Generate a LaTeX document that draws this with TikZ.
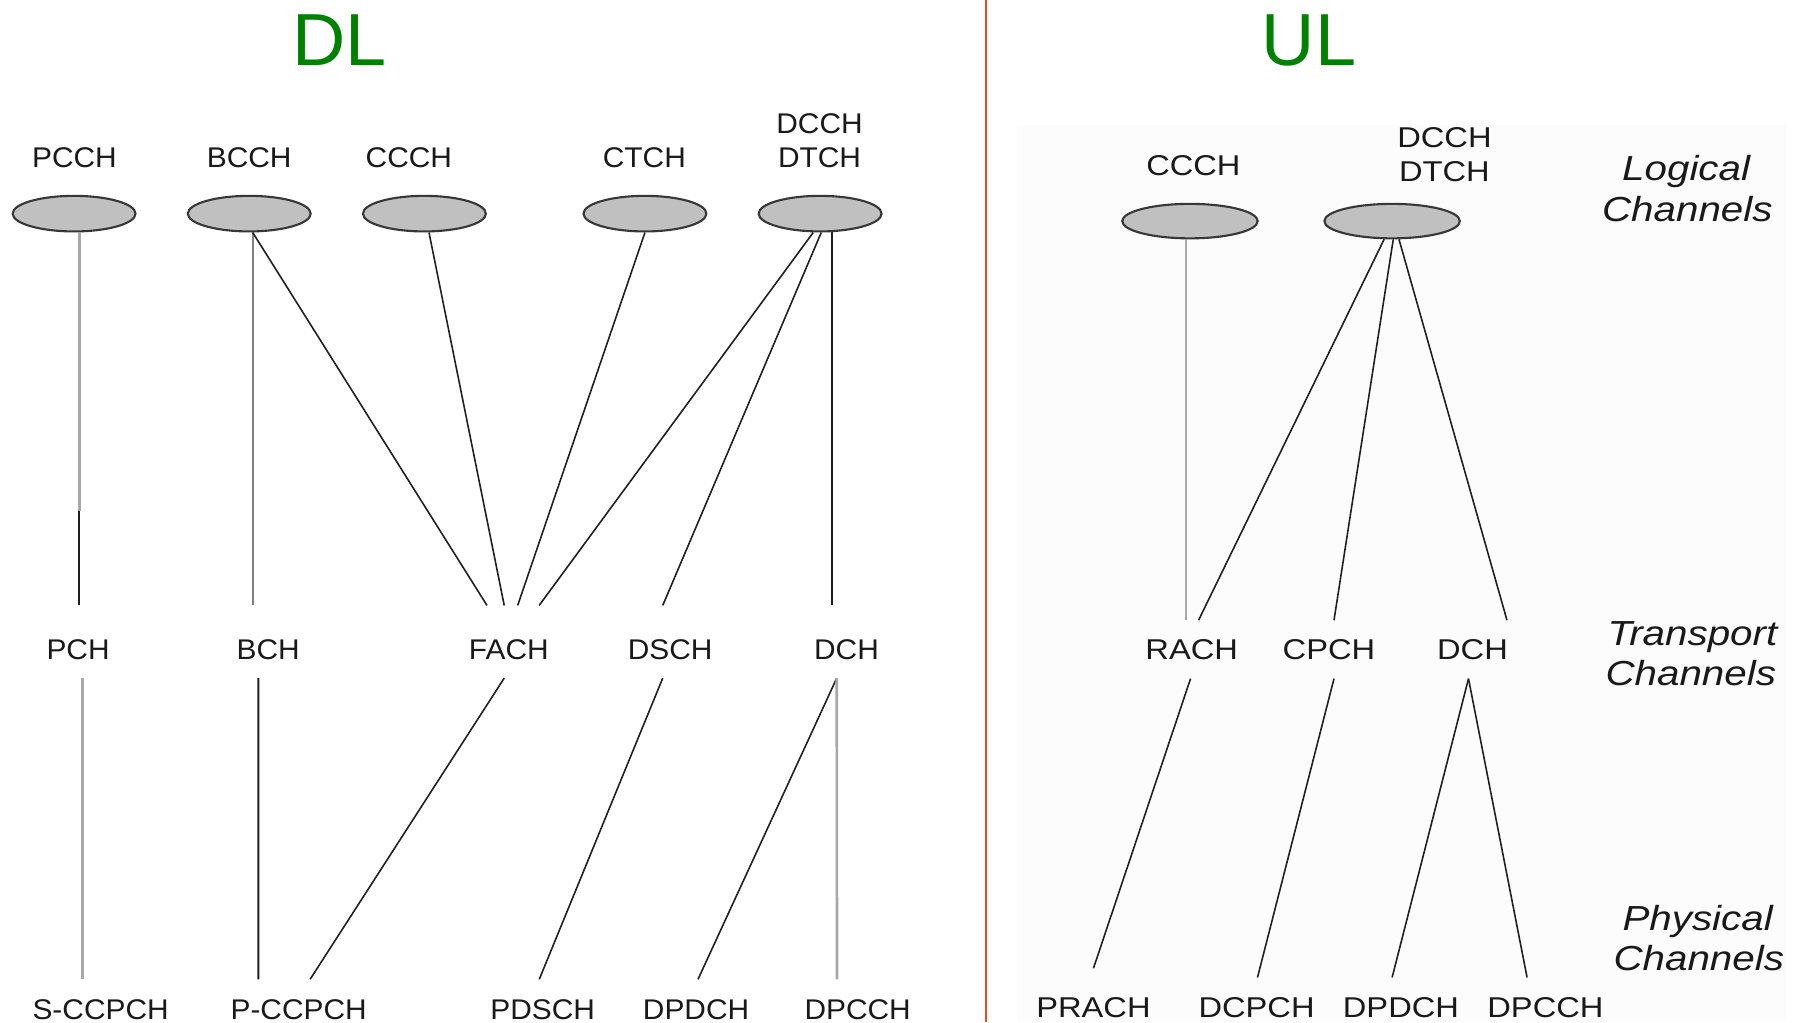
\documentclass[tikz,border=0pt]{standalone}
\usepackage{fontspec}
\setmainfont{Liberation Sans}
\newfontfamily\dlfont[FakeStretch=1.05]{Liberation Sans}
\newfontfamily\ulfont[FakeStretch=1.14]{Liberation Sans}
\newfontfamily\sidefont[FakeStretch=1.16]{Liberation Sans}
\usetikzlibrary{calc,shapes.geometric}
\definecolor{titlegreen}{RGB}{0,128,0}
\definecolor{divred}{RGB}{240,72,32}
\definecolor{ellfill}{RGB}{192,192,192}
\definecolor{ellline}{RGB}{55,55,55}
\definecolor{lgray}{RGB}{168,168,168}
\definecolor{mgray}{RGB}{128,128,128}
\definecolor{panelbg}{RGB}{252,252,252}
\definecolor{txt}{RGB}{25,25,25}
\begin{document}
\begin{tikzpicture}[x=0.011486cm,y=-0.011486cm,
  dllabel/.style={inner sep=0,anchor=base,text=txt,font=\dlfont\fontsize{8.1}{10.1}\selectfont},
  ullabel/.style={inner sep=0,anchor=base,text=txt,font=\ulfont\fontsize{8.15}{10}\selectfont},
  sidelabel/.style={inner sep=0,anchor=base,text=txt,font=\sidefont\itshape\fontsize{9.9}{11.7}\selectfont},
  titlelabel/.style={inner sep=0,anchor=base,text=titlegreen,font=\fontsize{21}{24}\selectfont},
  dlell/.style={ellipse,draw=ellline,fill=ellfill,line width=0.6pt,minimum width=1.229cm,minimum height=0.356cm,inner sep=0},
  ulell/.style={ellipse,draw=ellline,fill=ellfill,line width=0.6pt,minimum width=1.355cm,minimum height=0.345cm,inner sep=0},
  thinline/.style={draw=black!88,line width=0.45pt},
  grayline/.style={draw=lgray,line width=0.75pt},
  midline/.style={draw=mgray,line width=0.6pt}]
\useasboundingbox (0,0) rectangle (1568,890);
\fill[white] (0,0) rectangle (1568,890);
\fill[panelbg] (885,109) rectangle (1555,890);
\draw[divred,line width=0.7pt] (858.4,0) -- (858.4,890);

% titles
\node[titlelabel] (dltitle) at (295.6,56.6) {DL};
\node[titlelabel] (ultitle) at (1139.7,56.6) {UL};

% ---------------- DL ----------------
% logical labels
\node[dllabel] (pcch) at (64.8,146) {PCCH};
\node[dllabel] (bcch) at (217,146) {BCCH};
\node[dllabel] (ccch) at (356,146) {CCCH};
\node[dllabel] (ctch) at (561,146) {CTCH};
\node[dllabel] (dcchD) at (713.5,116) {DCCH};
\node[dllabel] (dtchD) at (713.5,146) {DTCH};
% ellipses
\node[dlell] (pcchE) at (64.5,186) {};
\node[dlell] (bcchE) at (217,186) {};
\node[dlell] (ccchE) at (369.5,186) {};
\node[dlell] (ctchE) at (561.5,186) {};
\node[dlell] (dcchE) at (714,186) {};
% transport
\node[dllabel] (pch) at (68,574) {PCH};
\node[dllabel] (bch) at (233.5,574) {BCH};
\node[dllabel] (fach) at (443,574) {FACH};
\node[dllabel] (dsch) at (583.5,574) {DSCH};
\node[dllabel] (dchD) at (737,574) {DCH};
% physical
\node[dllabel] (sccpch) at (87.6,888) {S-CCPCH};
\node[dllabel] (pccpch) at (260,888) {P-CCPCH};
\node[dllabel] (pdsch) at (472.5,888) {PDSCH};
\node[dllabel] (dpdchD) at (606,888) {DPDCH};
\node[dllabel] (dpcchD) at (746.7,888) {DPCCH};

% DL upper connectors
\coordinate (pcchBreak) at ($(pch.north)+(1,-111)$);
\draw[grayline] ($(pcchE.south)+(4.5,0)$) -- (pcchBreak);
\draw[thinline,line width=0.55pt] (pcchBreak) -- ($(pch.north)+(1,-29)$);
\draw[midline] ($(bcchE.south)+(3,0)$) -- ($(bch.north)+(-13.5,-29)$);
\draw[thinline] ($(bcchE.south)+(3,0)$) -- ($(fach.north)+(-19,-29)$);
\draw[thinline] ($(ccchE.south)+(4,0)$) -- ($(fach.north)+(-4,-29)$);
\draw[thinline] (ctchE.south) -- ($(fach.north)+(7.7,-29)$);
\draw[thinline] ($(dcchE.south)+(-6,0)$) -- ($(fach.north)+(26.4,-29)$);
\draw[thinline] ($(dcchE.south)+(1,0)$) -- ($(dsch.north)+(-6.5,-29)$);
\draw[thinline,line width=0.55pt] ($(dcchE.south)+(10.5,0)$) -- ($(dchD.north)+(-12.5,-29)$);
% DL lower connectors
\draw[grayline] ($(pch.south)+(3.6,15.5)$) -- ($(sccpch.north)+(-16,-17.5)$);
\draw[thinline,line width=0.55pt] ($(bch.south)+(-8.6,15.5)$) -- ($(pccpch.north)+(-35,-17.5)$);
\draw[thinline] ($(fach.south)+(-4,15.5)$) -- ($(pccpch.north)+(10,-17.5)$);
\draw[thinline] ($(dsch.south)+(-6.5,15.5)$) -- ($(pdsch.north)+(-3,-17.5)$);
\draw[thinline] ($(dchD.south)+(-8.5,15.5)$) -- ($(dpdchD.north)+(1.7,-17.5)$);
\draw[grayline] ($(dchD.south)+(-8.5,15.5)$) -- ($(dpcchD.north)+(-18,-17.5)$);

% ---------------- UL ----------------
\node[ullabel] (ccchUl) at (1039,152.5) {CCCH};
\node[ullabel] (dcchUl) at (1257.6,128) {DCCH};
\node[ullabel] (dtchUl) at (1257.6,158) {DTCH};
\node[ulell] (ccchU) at (1036,192.5) {};
\node[ulell] (dcchU) at (1212,192.5) {};
\node[ullabel] (rach) at (1037.5,574) {RACH};
\node[ullabel] (cpch) at (1157,574) {CPCH};
\node[ullabel] (dchU) at (1282,574) {DCH};
\node[ullabel] (prach) at (952,885.5) {PRACH};
\node[ullabel] (dcpch) at (1094,885.5) {DCPCH};
\node[ullabel] (dpdchU) at (1219.7,885.5) {DPDCH};
\node[ullabel] (dpcchU) at (1345.5,885.5) {DPCCH};

% side labels
\node[sidelabel] (logical) at (1468,157) {Logical};
\node[sidelabel] (logicalch) at (1469,193) {Channels};
\node[sidelabel] (transport) at (1473.5,561.6) {Transport};
\node[sidelabel] (transportch) at (1472,597) {Channels};
\node[sidelabel] (physical) at (1478,810) {Physical};
\node[sidelabel] (physicalch) at (1479,844.5) {Channels};

% UL connectors
\draw[grayline] ($(ccchU.south)+(-3.5,0)$) -- ($(rach.north)+(-5,-16)$);
\draw[thinline] ($(dcchU.south)+(-7,0)$) -- ($(rach.north)+(6,-16)$);
\draw[thinline] ($(dcchU.south)+(1,0)$) -- ($(cpch.north)+(4.4,-16)$);
\draw[thinline] ($(dcchU.south)+(6,0)$) -- ($(dchU.north)+(30,-16)$);
\draw[thinline] ($(rach.south)+(-1,16)$) -- ($(prach.north)+(0,-24.5)$);
\draw[thinline] ($(cpch.south)+(4.4,16)$) -- ($(dcpch.north)+(0.8,-16.5)$);
\draw[thinline] ($(dchU.south)+(-3.5,16)$) -- ($(dpdchU.north)+(-7.7,-16.5)$);
\draw[thinline] ($(dchU.south)+(-3.5,16)$) -- ($(dpcchU.north)+(-16,-16.5)$);
\end{tikzpicture}
\end{document}
